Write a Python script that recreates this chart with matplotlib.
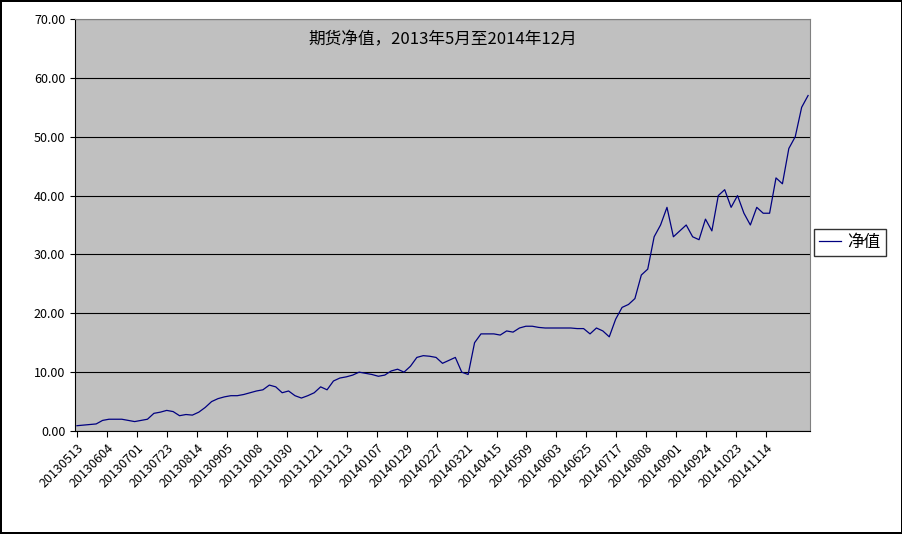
import matplotlib
matplotlib.use("Agg")
import matplotlib.pyplot as plt
import numpy as np
plt.rcParams['font.family'] = ['Noto Sans CJK SC', 'DejaVu Sans']

values = [0.9,1.0,1.1,1.2, 1.8,2.0,2.0,2.0,1.8, 1.6,1.8,2.0,
          3.0,3.2,3.5,3.3, 2.6,2.8,2.7,3.2, 4.0,5.0,5.5,5.8,
          6.0,6.0,6.2,6.5, 6.8,7.0,7.8,7.5, 6.5,6.8,6.0,5.6,
          6.0,6.5,7.5,7.0, 8.5,9.0,9.2,9.5, 10.0,9.8,9.6,9.3,
          9.5,10.2,10.5,10.0, 11.0,12.5,12.8,12.7, 12.5,11.5,12.0,12.5,
          10.0,9.6,15.0,16.5, 16.5,16.5,16.3,17.0, 16.8,17.5,17.8,17.8,
          17.6,17.5,17.5,17.5,17.5,17.5,17.4,17.4,
          16.5,17.5,17.0,16.0, 19.0,21.0,21.5,22.5, 26.5,27.5,33.0,35.0,
          38.0,33.0,34.0,35.0, 33.0,32.5,36.0,34.0, 40.0,41.0,38.0,40.0,
          37.0,35.0,38.0,37.0, 37.0,43.0,42.0,48.0, 50.0,55.0,57.0]
tick_labels = ['20130513','20130604','20130701','20130723','20130814','20130905',
               '20131008','20131030','20131121','20131213','20140107','20140129',
               '20140227','20140321','20140415','20140509','20140603','20140625',
               '20140717','20140808','20140901','20140924','20141023','20141114']
title = '期货净值，2013年5月至2014年12月'

fig = plt.figure(figsize=(9.03, 5.34), dpi=100)
fig.patch.set_edgecolor('black'); fig.patch.set_linewidth(1.5)
ax = fig.add_axes([75/903, 1-431/534, 735/903, 412/534])
ax.set_facecolor('#c0c0c0')
x = np.arange(len(values))
ax.plot(x, values, color='#000080', lw=0.9, label='净值')
ax.set_ylim(0, 70)
ax.set_xlim(-0.3, 114.3)
ax.set_yticks(np.arange(0, 71, 10))
ax.set_yticklabels([f'{v:.2f}' for v in range(0, 71, 10)], fontsize=9)
ax.yaxis.grid(True, color='black', lw=0.8)
ax.set_axisbelow(True)
ax.set_xticks(np.arange(len(tick_labels)) * 30 / 6.42)
ax.set_xticklabels(tick_labels, rotation=45, ha='right', rotation_mode='anchor', fontsize=9)
ax.tick_params(axis='x', length=4)
for s in ['top', 'right']:
    ax.spines[s].set_color('#808080')
ax.text(0.5, 0.97, title, transform=ax.transAxes, ha='center', va='top', fontsize=12)
fig.legend(loc='center left', bbox_to_anchor=(814/903, 1-242/534), frameon=True,
           fancybox=False, edgecolor='black', fontsize=12, handlelength=1.3,
           handletextpad=0.4, borderpad=0.3, borderaxespad=0)
fig.savefig('out.png', dpi=100)
